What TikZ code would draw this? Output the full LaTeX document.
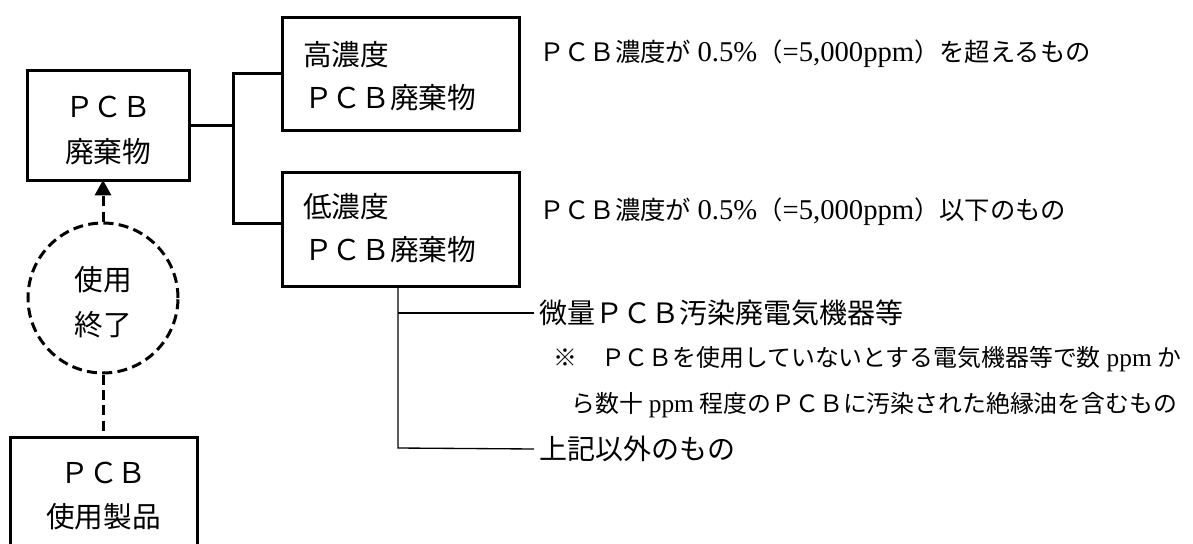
\documentclass[tikz,border=0pt]{standalone}
\usepackage{fontspec}
\setmainfont{Liberation Serif}
\newfontfamily\jp{Noto Sans CJK JP}
\usetikzlibrary{arrows.meta}
\newcommand\latbig[1]{{\fontsize{21.5pt}{24pt}\selectfont #1}}
\newcommand\latmid[1]{{\fontsize{19pt}{24pt}\selectfont #1}}
\tikzset{
  px/.style={x=0.75pt,y=-0.75pt},
  box/.style={draw, line width=2.25pt, inner sep=0pt, outer sep=0pt},
  boxtext/.style={inner sep=0pt, font=\jp\fontsize{21.5pt}{26pt}\selectfont},
  rtext/.style={inner sep=0pt, anchor=west, font=\fontsize{19pt}{24pt}\selectfont},
  ntext/.style={inner xsep=4pt, inner ysep=0pt, anchor=west, font=\fontsize{21pt}{24pt}\selectfont},
  stext/.style={inner sep=0pt, anchor=west, font=\fontsize{17.9pt}{22pt}\selectfont},
  conn/.style={line width=2.25pt},
  thinline/.style={line width=1pt},
  dline/.style={line width=2.25pt, dash pattern=on 7.5pt off 4pt},
}
\begin{document}
\begin{tikzpicture}[px]
\useasboundingbox (0,0) rectangle (1193,543);
\clip (0,0) rectangle (1193,543);
% PCB waste box
\node[box, minimum width=162*0.75pt, minimum height=110*0.75pt] (waste) at (108,125) {};
\node[boxtext] (w1) at (108,107) {ＰＣＢ};
\node[boxtext] (w2) at (108,152) {廃棄物};
% high / low boxes
\node[box, minimum width=237*0.75pt, minimum height=113*0.75pt] (high) at (400.5,73.5) {};
\node[boxtext, anchor=west] (h1) at (303,55) {高濃度};
\node[boxtext, anchor=west] (h2) at (304,98) {ＰＣＢ廃棄物};
\node[box, minimum width=237*0.75pt, minimum height=114*0.75pt] (low) at (400.5,229) {};
\node[boxtext, anchor=west] (l1) at (303,207) {低濃度};
\node[boxtext, anchor=west] (l2) at (304,250) {ＰＣＢ廃棄物};
% end-of-use circle
\node[draw, circle, dline, minimum size=150*0.75pt, inner sep=0pt] (endu) at (103,298) {};
\node[boxtext] (c1) at (103,280) {使用};
\node[boxtext] (c2) at (103,325) {終了};
% product box
\node[box, anchor=north, minimum width=187*0.75pt, minimum height=130*0.75pt] (prod) at (103.5,437) {};
\node[boxtext] (p1) at (103.5,473) {ＰＣＢ};
\node[boxtext] (p2) at (103.5,517) {使用製品};
% connectors
\coordinate (jt) at (233,73);
\coordinate (jb) at (233,223);
\draw[conn] (waste.east) -- (waste.east -| jt);
\draw[conn] (high.west |- jt) -- (jt) -- (jb) -- (low.west |- jb);
\draw[dline, -{Triangle[length=11.5pt,width=12pt]}] (endu.north) -- (endu.north |- waste.south);
\draw[dline] (endu.south) -- (endu.south |- prod.north);
% right descriptions
\node[rtext] (r1) at (539,54) {{\jp ＰＣＢ濃度が} \latbig{0.5\%}{\jp （}\latbig{=5,000ppm}{\jp ）を超えるもの}};
\node[rtext] (r2) at (539,212) {{\jp ＰＣＢ濃度が} \latbig{0.5\%}{\jp （}\latbig{=5,000ppm}{\jp ）以下のもの}};
% branch under low box
\coordinate (b1) at (398,313);
\coordinate (b2) at (398,448);
\node[ntext] (t1) at (534,313) {\jp 微量ＰＣＢ汚染廃電気機器等};
\node[stext] (t2) at (553,359) {{\jp ※　ＰＣＢを使用していないとする電気機器等で数} \latmid{ppm} {\jp か}};
\node[stext] (t3) at (571,405) {{\jp ら数十} \latmid{ppm} {\jp 程度のＰＣＢに汚染された絶縁油を含むもの}};
\node[ntext] (t4) at (534,449) {\jp 上記以外のもの};
\draw[thinline] (low.south -| b1) -- (b2) -- (t4.west);
\draw[thinline] (b1) -- (t1.west);
\end{tikzpicture}
\end{document}
